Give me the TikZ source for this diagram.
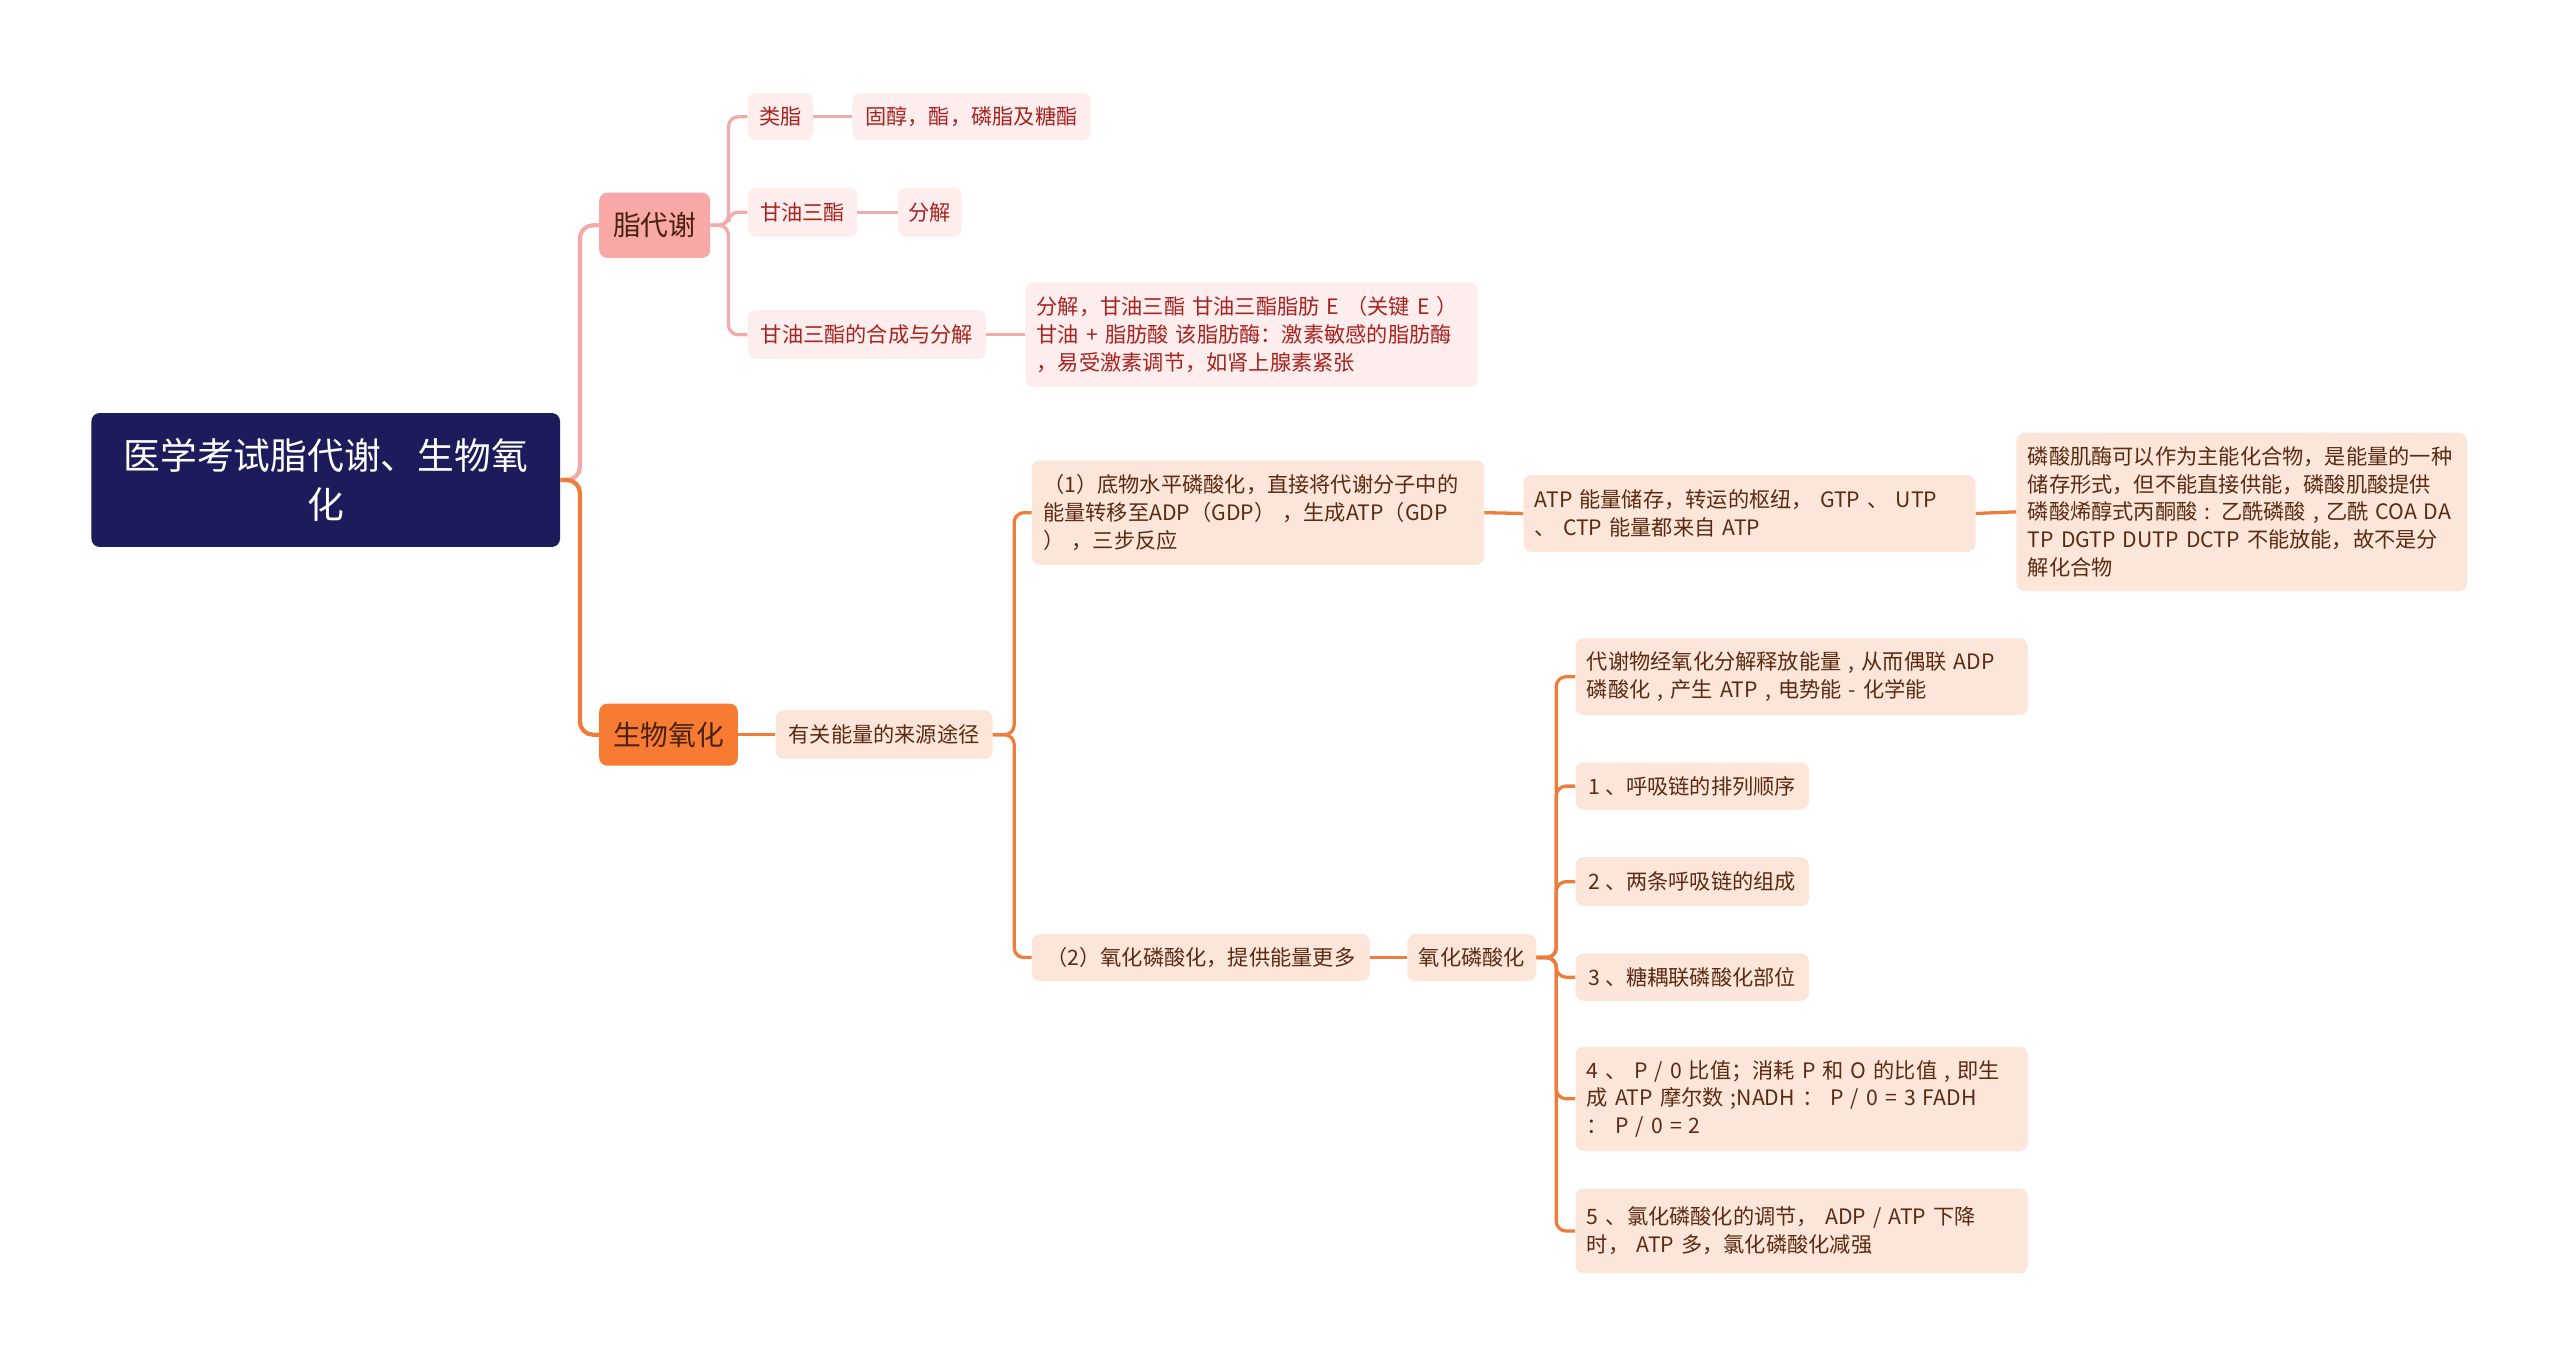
\documentclass[tikz,border=0pt]{standalone}
\usepackage{fontspec}
\setmainfont{Noto Sans CJK SC}
\definecolor{navy}{HTML}{1C1B5B}
\definecolor{pinkmain}{HTML}{F8A9A7}
\definecolor{pinkline}{HTML}{F4AAA8}
\definecolor{pinkfill}{HTML}{FDEDED}
\definecolor{pinktext}{HTML}{A8231F}
\definecolor{orangemain}{HTML}{F77B33}
\definecolor{orangeline}{HTML}{EE7D3C}
\definecolor{orangefill}{HTML}{FCE6DA}
\definecolor{browntext}{HTML}{5A2A12}
\tikzset{
  box/.style={rounded corners=5pt, inner sep=0pt, align=left, font=\fontsize{13}{17}\selectfont},
  pbox/.style={box, fill=pinkfill, text=pinktext},
  obox/.style={box, fill=orangefill, text=browntext},
  wide/.style={text width=263, inner xsep=7pt},
  pconn/.style={draw=pinkline, line width=2pt, rounded corners=6pt},
  oconn/.style={draw=orangeline, line width=2pt, rounded corners=6pt},
  pmain/.style={draw=pinkline, line width=2.6pt, rounded corners=8pt},
  omain/.style={draw=orangeline, line width=2.6pt, rounded corners=8pt}
}
\newcommand{\myln}[1]{\mbox{#1}}
\begin{document}
\begin{tikzpicture}[x=1pt,y=-1pt]
\useasboundingbox[fill=white] (0,0) rectangle (1568,837);

% root and main branches
\node[box, fill=navy, text=white, align=center, font=\fontsize{22.5}{30}\selectfont,
      minimum width=287, minimum height=82] (root) at (199.5,294) {医学考试脂代谢、生物氧\\化};
\node[box, fill=pinkmain, text=browntext!80!black, align=center, font=\fontsize{17}{20}\selectfont,
      minimum width=68, minimum height=40] (zhi) at (401,138) {脂代谢};
\node[box, fill=orangemain, text=browntext!80!black, align=center, font=\fontsize{17}{20}\selectfont,
      minimum width=85, minimum height=38] (bio) at (409.5,450) {生物氧化};

% lipid branch
\node[pbox, minimum width=40, minimum height=29] (lei) at (478,71.5) {类脂};
\node[pbox, minimum width=146, minimum height=29] (guchun) at (595,71.5) {固醇，酯，磷脂及糖酯};
\node[pbox, minimum width=67, minimum height=30] (gy) at (491.5,130) {甘油三酯};
\node[pbox, minimum width=39, minimum height=30] (fj) at (569.5,130) {分解};
\node[pbox, minimum width=146, minimum height=30] (hc) at (531,205) {甘油三酯的合成与分解};
\node[pbox, wide, minimum height=64] (hcd) at (766.5,205)
  {\myln{分解，甘油三酯 甘油三酯脂肪 E （关键 E ）}\\\myln{甘油 + 脂肪酸 该脂肪酶：激素敏感的脂肪酶}\\\myln{，易受激素调节，如肾上腺素紧张}};

% bio-oxidation branch
\node[obox, minimum width=133, minimum height=30] (ly) at (541.5,450) {有关能量的来源途径};
\node[obox, wide, minimum height=64] (p1) at (770.5,314)
  {\myln{（1）底物水平磷酸化，直接将代谢分子中的}\\\myln{能量转移至ADP（GDP） ，生成ATP（GDP}\\\myln{） ，三步反应}};
\node[obox, wide, minimum height=47] (atp) at (1071.5,314.5)
  {\myln{ATP 能量储存，转运的枢纽， GTP 、 UTP}\\\myln{、 CTP 能量都来自 ATP}};
\node[obox, wide, text width=262, minimum height=97] (lsj) at (1373,313.5)
  {\myln{磷酸肌酶可以作为主能化合物，是能量的一种}\\\myln{储存形式，但不能直接供能，磷酸肌酸提供}\\\myln{磷酸烯醇式丙酮酸 : 乙酰磷酸 , 乙酰 COA DA}\\\myln{TP DGTP DUTP DCTP 不能放能，故不是分}\\\myln{解化合物}};
\node[obox, minimum width=207, minimum height=29] (p2) at (735.5,586.5) {（2）氧化磷酸化，提供能量更多};
\node[obox, minimum width=79, minimum height=29] (yh) at (901.5,586.5) {氧化磷酸化};
\node[obox, wide, minimum height=47] (c0) at (1103.5,414.5)
  {\myln{代谢物经氧化分解释放能量 , 从而偶联 ADP}\\\myln{磷酸化 , 产生 ATP , 电势能 - 化学能}};
\node[obox, minimum width=143, minimum height=29] (c1) at (1036.5,481.5) {1 、呼吸链的排列顺序};
\node[obox, minimum width=143, minimum height=30] (c2) at (1036.5,540) {2 、两条呼吸链的组成};
\node[obox, minimum width=143, minimum height=29] (c3) at (1036.5,598.5) {3 、糖耦联磷酸化部位};
\node[obox, wide, minimum height=64] (c4) at (1103.5,673)
  {\myln{4 、 P / 0 比值；消耗 P 和 O 的比值 , 即生}\\\myln{成 ATP 摩尔数 ;NADH ：  P / 0 = 3 FADH}\\\myln{：  P / 0 = 2}};
\node[obox, wide, minimum height=52] (c5) at (1103.5,754)
  {\myln{5 、氯化磷酸化的调节，  ADP / ATP 下降}\\\myln{时，  ATP 多，氯化磷酸化减强}};

% connectors
\draw[pmain] (root.east) -- ++(12,0) |- (zhi.west);
\draw[omain] (root.east) -- ++(12,0) |- (bio.west);

\draw[pconn] (zhi.east) -- ++(11,0) |- (lei.west);
\draw[pconn] (zhi.east) -- ++(11,0) |- (gy.west);
\draw[pconn] (zhi.east) -- ++(11,0) |- (hc.west);
\draw[pconn] (lei.east) -- (guchun.west);
\draw[pconn] (gy.east) -- (fj.west);
\draw[pconn] (hc.east) -- (hcd.west);

\draw[oconn] (bio.east) -- (ly.west);
\draw[oconn] (ly.east) -- ++(13,0) |- (p1.west);
\draw[oconn] (ly.east) -- ++(13,0) |- (p2.west);
\draw[oconn] (p1.east) -- (atp.west);
\draw[oconn] (atp.east) -- (lsj.west);
\draw[oconn] (p2.east) -- (yh.west);
\foreach \c in {c0,c1,c2,c3,c4,c5}
  \draw[oconn] (yh.east) -- ++(12,0) |- (\c.west);
\end{tikzpicture}
\end{document}
